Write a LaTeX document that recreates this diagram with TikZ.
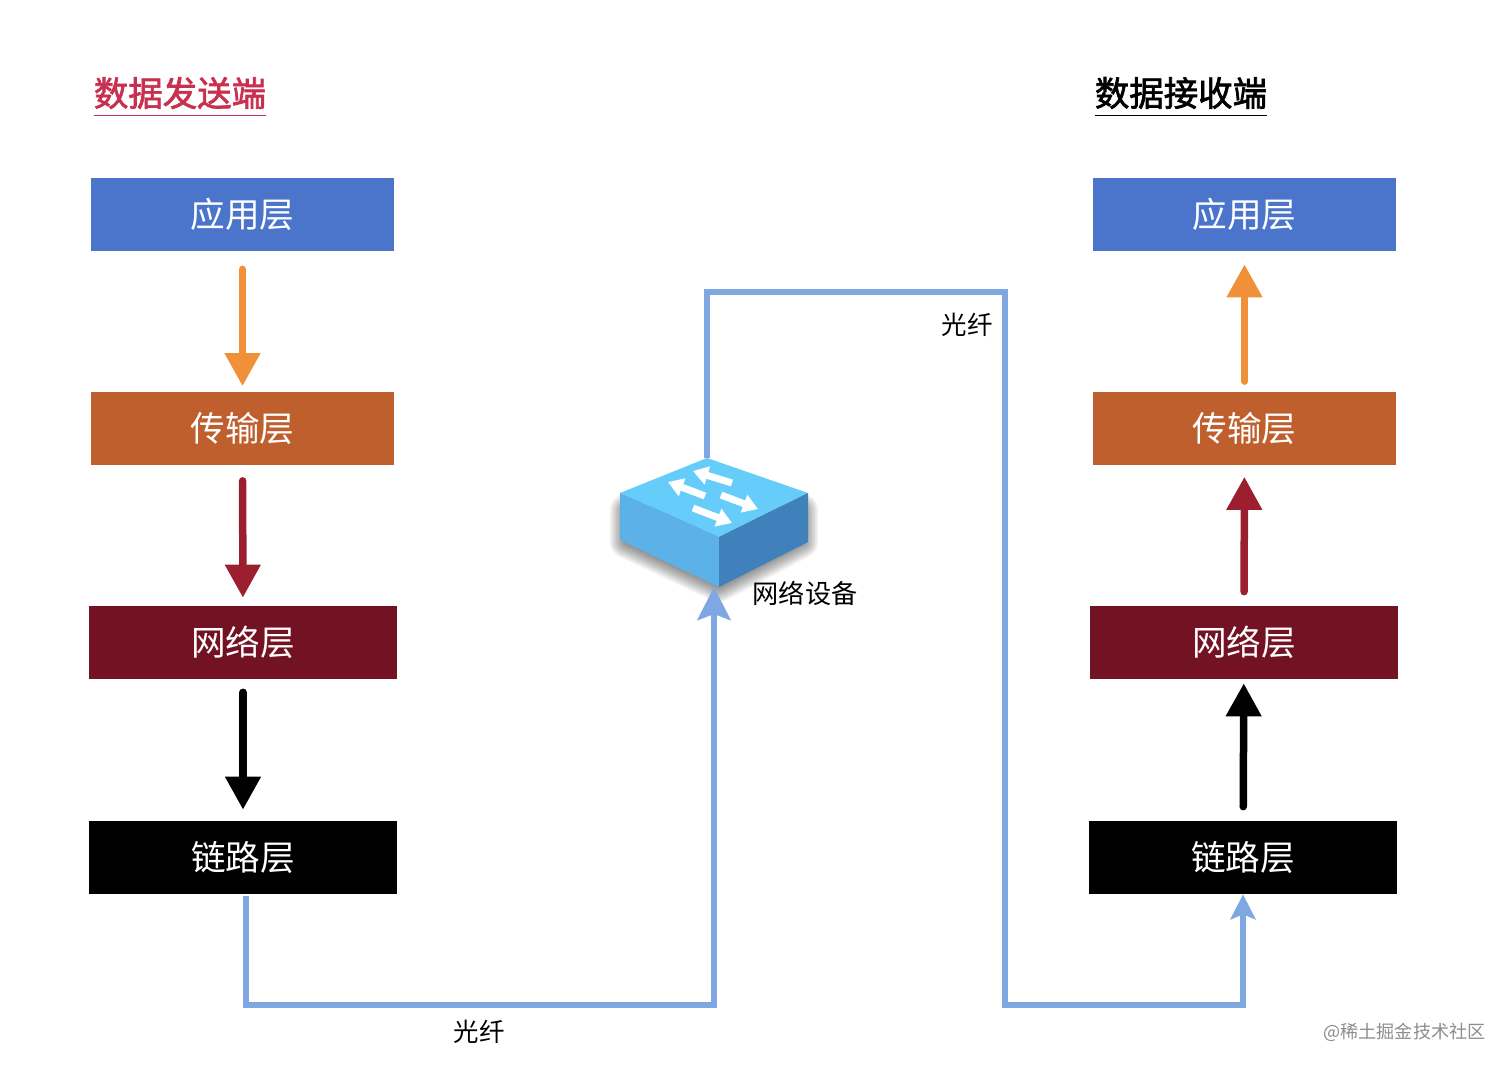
\documentclass[tikz,border=0pt]{standalone}
\usepackage{fontspec}
\setmainfont{Noto Sans CJK SC}
\newfontfamily\titlefont[FakeBold=2]{Noto Sans CJK SC}
\usetikzlibrary{arrows.meta}

\definecolor{bluelayer}{HTML}{4A75CB}
\definecolor{orangelayer}{HTML}{BE5F2D}
\definecolor{redlayer}{HTML}{731222}
\definecolor{orangearrow}{HTML}{F0913A}
\definecolor{redarrow}{HTML}{9C1F30}
\definecolor{fibre}{HTML}{7FA8E3}
\definecolor{sendred}{HTML}{C8304F}
\definecolor{swtop}{HTML}{66CDFA}
\definecolor{swleft}{HTML}{5CB2E8}
\definecolor{swright}{HTML}{4080BB}

\tikzset{
  layer/.style={fill=#1, text=white, inner sep=0pt, minimum height=1.46cm, font=\fontsize{19.7}{23}\selectfont},
  narrow/.style={minimum width=6.06cm},
  wide/.style={minimum width=6.16cm},
  headtitle/.style={inner sep=0pt, minimum height=0.9cm, font=\fontsize{19.6}{23}\selectfont\titlefont},
  textlabel/.style={inner sep=0pt, font=\fontsize{14.5}{17}\selectfont},
  flow/.style={line width=0.15cm, line cap=round, shorten <=0.36cm, shorten >=0.1cm,
    -{Triangle[length=0.66cm, width=0.68cm]}},
  fibreline/.style={fibre, line width=0.13cm},
  fibretip/.style={-{Stealth[length=0.66cm, width=0.66cm, inset=0.12cm]}},
  fibretipsmall/.style={-{Stealth[length=0.5cm, width=0.5cm, inset=0.1cm]}},
  swarrow/.style={white, line width=0.14cm, -{Triangle[length=0.3cm, width=0.36cm]}}
}

\begin{document}
\begin{tikzpicture}[x=0.02cm, y=-0.02cm]
  \useasboundingbox (0, 0) rectangle (1512, 1069);

  \node[headtitle, text=sendred] (sendtitle) at (180, 93) {数据发送端};
  \node[headtitle] (recvtitle) at (1181, 93) {数据接收端};
  \draw[sendred, line width=0.02cm] (sendtitle.south west) to (sendtitle.south east);
  \draw[line width=0.02cm] (recvtitle.south west) to (recvtitle.south east);

  \node[layer=bluelayer, narrow] (app1) at (242.5, 214.5) {应用层};
  \node[layer=orangelayer, narrow] (trans1) at (242.5, 428) {传输层};
  \node[layer=redlayer, wide] (net1) at (243, 642.5) {网络层};
  \node[layer=black, wide] (link1) at (243, 857.5) {链路层};

  \node[layer=bluelayer, narrow] (app2) at (1244.5, 214.5) {应用层};
  \node[layer=orangelayer, narrow] (trans2) at (1244.5, 428) {传输层};
  \node[layer=redlayer, wide] (net2) at (1244, 642.5) {网络层};
  \node[layer=black, wide] (link2) at (1243, 857.5) {链路层};

  \draw[flow, orangearrow] (app1) to (trans1);
  \draw[flow, redarrow, shorten <=0.32cm, shorten >=0.16cm] (trans1) to (net1);
  \draw[flow, black, shorten <=0.26cm, shorten >=0.22cm] (net1) to (link1);
  \draw[flow, black, shorten <=0.28cm, shorten >=0.08cm] (link2) to (net2);
  \draw[flow, redarrow, shorten <=0.28cm, shorten >=0.24cm] (net2) to (trans2);
  \draw[flow, orangearrow, shorten <=0.2cm, shorten >=0.26cm] (trans2) to (app2);

  \foreach \w in {2, 5, ..., 32}
    \draw[black, fill=black, opacity=0.05, line width=\w*0.02cm, line join=round]
      (626, 510) -- (802, 510) -- (802, 542) -- (719, 586) -- (626, 542) -- cycle;

  \coordinate (swback) at (707, 458);
  \coordinate (swright) at (808, 493);
  \coordinate (swfront) at (719, 537);
  \coordinate (swleft) at (620, 493);
  \coordinate (swbottom) at (719, 587);
  \coordinate (swbelowl) at (620, 540);
  \coordinate (swbelowr) at (808, 542);
  \coordinate (swin) at (714, 587);

  \fill[swtop] (swback) -- (swright) -- (swfront) -- (swleft) -- cycle;
  \fill[swleft] (swleft) -- (swfront) -- (swbottom) -- (swbelowl) -- cycle;
  \fill[swright] (swright) -- (swfront) -- (swbottom) -- (swbelowr) -- cycle;

  \draw[swarrow] (732, 483) to (693, 471);
  \draw[swarrow] (705, 496) to (668, 482);
  \draw[swarrow] (721, 495) to (758, 509);
  \draw[swarrow] (693, 508) to (732, 523);

  \coordinate (out1) at (246, 896);
  \coordinate (bend1) at (246, 1005);
  \coordinate (bend2) at (714, 1005);
  \coordinate (bend3) at (707, 292);
  \coordinate (bend4) at (1005, 292);
  \coordinate (bend5) at (1005, 1005);
  \coordinate (bend6) at (1243, 1005);

  \draw[fibreline, fibretip] (out1) -- (bend1) -- (bend2) -- (swin);
  \draw[fibreline, fibretipsmall] (swback) -- (bend3) -- (bend4) -- (bend5) -- (bend6) -- (link2.south);

  \node[textlabel] (fibrea) at (479, 1032) {光纤};
  \node[textlabel] (fibreb) at (967, 325) {光纤};
  \node[textlabel, font=\fontsize{14.9}{17}\selectfont] (device) at (805, 593) {网络设备};
  \node[inner sep=0pt, text=black!45, font=\fontsize{10.3}{12}\selectfont] (mark) at (1404.5, 1032) {@稀土掘金技术社区};
\end{tikzpicture}
\end{document}
